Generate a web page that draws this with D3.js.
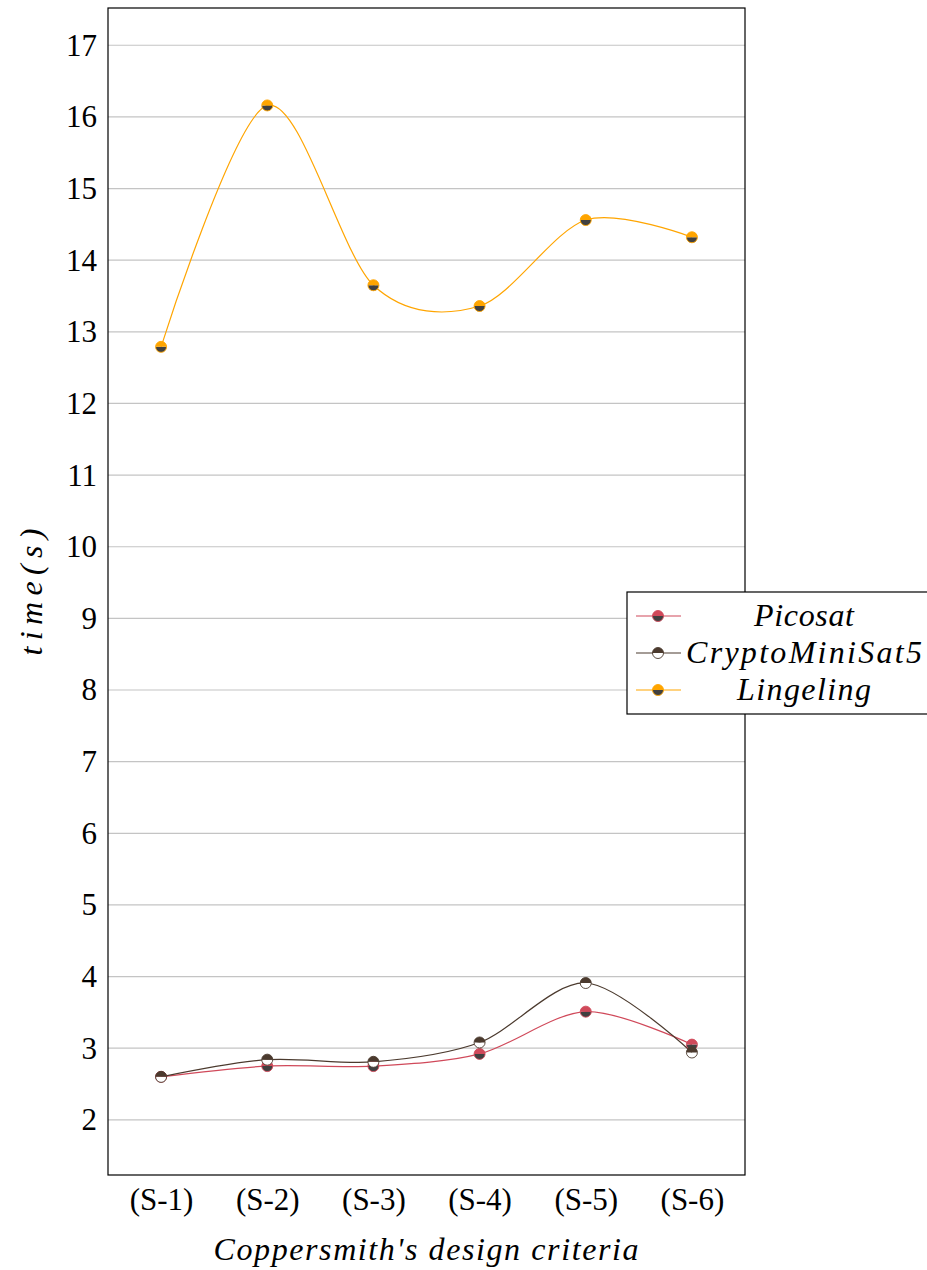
<!DOCTYPE html>
<html>
<head>
<meta charset="utf-8">
<script src="https://cdn.jsdelivr.net/npm/d3@7"></script>
<style>
  body { margin: 0; background: #fff; }
  text { font-family: "Liberation Serif", serif; fill: #000; }
</style>
</head>
<body>
<div id="chart"></div>
<script>
// Chart data
const criteria = ["(S-1)", "(S-2)", "(S-3)", "(S-4)", "(S-5)", "(S-6)"];
const picosat = [2.60, 2.75, 2.75, 2.92, 3.51, 3.05];
const cryptominisat = [2.60, 2.84, 2.81, 3.08, 3.91, 2.94];
const lingeling = [12.79, 16.16, 13.65, 13.36, 14.56, 14.32];
const yTicks = [2, 3, 4, 5, 6, 7, 8, 9, 10, 11, 12, 13, 14, 15, 16, 17];

const series = [
  {name: "Picosat", values: picosat, color: "#d0495a", top: "#d0495a", bottom: "#404040", len: 100},
  {name: "CryptoMiniSat5", values: cryptominisat, color: "#4b3a2e", top: "#4b3a2e", bottom: "#ffffff", len: 236},
  {name: "Lingeling", values: lingeling, color: "#ffa500", top: "#ffa500", bottom: "#404040", len: 134}
];

// Dimensions
const width = 927;
const height = 1270;
const margin = {left: 108, right: 182, top: 8, bottom: 95};

const svg = d3.select("#chart")
  .append("svg")
  .attr("width", width)
  .attr("height", height);

// Scales
const xScale = d3.scalePoint()
  .domain(criteria)
  .range([margin.left, width - margin.right])
  .padding(0.5);

const yScale = d3.scaleLinear()
  .domain([1.23, 17.52])
  .range([height - margin.bottom, margin.top]);

// Grid lines
svg.append("g")
  .selectAll("line")
  .data(yTicks)
  .enter()
  .append("line")
    .attr("x1", margin.left)
    .attr("x2", width - margin.right)
    .attr("y1", d => yScale(d))
    .attr("y2", d => yScale(d))
    .attr("stroke", "#c4c4c4")
    .attr("stroke-width", 1.2);

// Y axis tick labels
svg.append("g")
  .attr("transform", `translate(${margin.left}, 0)`)
  .call(d3.axisLeft(yScale).tickValues(yTicks).tickSize(0).tickPadding(11))
  .call(g => g.select(".domain").remove())
  .call(g => g.selectAll("text")
    .attr("font-size", "31px")
    .attr("fill", "#000"));

// X axis tick labels
svg.append("g")
  .attr("transform", `translate(0, ${height - margin.bottom})`)
  .call(d3.axisBottom(xScale).tickSize(0).tickPadding(13))
  .call(g => g.select(".domain").remove())
  .call(g => g.selectAll("text")
    .attr("font-size", "31px")
    .attr("fill", "#000"));

// Lines
const line = d3.line()
  .x((d, i) => xScale(criteria[i]))
  .y(d => yScale(d))
  .curve(d3.curveCardinal.tension(0.08));

svg.append("g")
  .selectAll("path")
  .data(series)
  .enter()
  .append("path")
    .attr("d", d => line(d.values))
    .attr("fill", "none")
    .attr("stroke", d => d.color)
    .attr("stroke-width", 1.2);

// Half-circle markers
const r = 5.5;
const topArc = `M${-r},0 A${r},${r} 0 0 1 ${r},0 Z`;
const bottomArc = `M${-r},0 A${r},${r} 0 0 0 ${r},0 Z`;

function drawMark(g, s) {
  g.append("path").attr("d", bottomArc).attr("fill", s.bottom);
  g.append("path").attr("d", topArc).attr("fill", s.top);
  g.append("circle").attr("r", r).attr("fill", "none")
    .attr("stroke", s.color).attr("stroke-width", 0.9);
}

series.forEach(s => {
  s.values.forEach((v, i) => {
    const g = svg.append("g")
      .attr("transform", `translate(${xScale(criteria[i])}, ${yScale(v)})`);
    drawMark(g, s);
  });
});

// Frame
svg.append("rect")
  .attr("x", margin.left)
  .attr("y", margin.top)
  .attr("width", width - margin.left - margin.right)
  .attr("height", height - margin.top - margin.bottom)
  .attr("fill", "none")
  .attr("stroke", "#000")
  .attr("stroke-width", 1.2);

// Axis titles
svg.append("text")
  .attr("transform", `translate(42, 592) rotate(-90)`)
  .attr("text-anchor", "middle")
  .attr("font-size", "32px")
  .attr("font-style", "italic")
  .attr("textLength", 127)
  .attr("lengthAdjust", "spacing")
  .text("time(s)");

svg.append("text")
  .attr("x", 426)
  .attr("y", 1260)
  .attr("text-anchor", "middle")
  .attr("font-size", "32px")
  .attr("font-style", "italic")
  .attr("textLength", 425)
  .attr("lengthAdjust", "spacing")
  .text("Coppersmith's design criteria");

// Legend
const legend = svg.append("g");
legend.append("rect")
  .attr("x", 627)
  .attr("y", 592)
  .attr("width", 320)
  .attr("height", 122)
  .attr("fill", "#fff")
  .attr("stroke", "#000")
  .attr("stroke-width", 1.2);

series.forEach((s, i) => {
  const y = 616 + i * 37;
  legend.append("line")
    .attr("x1", 636).attr("x2", 681)
    .attr("y1", y).attr("y2", y)
    .attr("stroke", s.color)
    .attr("stroke-width", 1.2);
  const g = legend.append("g").attr("transform", `translate(658, ${y})`);
  drawMark(g, s);
  legend.append("text")
    .attr("x", 804)
    .attr("y", y + 10)
    .attr("text-anchor", "middle")
    .attr("font-size", "32px")
    .attr("font-style", "italic")
    .attr("textLength", s.len)
    .attr("lengthAdjust", "spacing")
    .text(s.name);
});
</script>
</body>
</html>
